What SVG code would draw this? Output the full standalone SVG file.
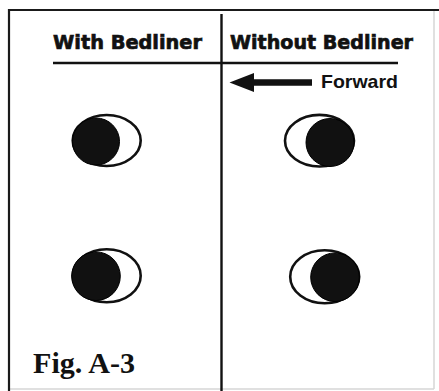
<svg xmlns="http://www.w3.org/2000/svg" width="439" height="391" viewBox="0 0 439 391">
<style>
.frame{stroke:#1a1a1a;stroke-width:2.2;fill:none}
.faint{stroke:#d6d6d6;stroke-width:1.5;fill:none}
.rule{stroke:#111;stroke-width:2.4;fill:none}
.head{font-family:"DejaVu Sans",sans-serif;font-weight:bold;font-size:19.5px;fill:#111;stroke:#111;stroke-width:0.7}
.fwd{font-family:"Liberation Sans",Arial,sans-serif;font-weight:bold;font-size:18.5px;fill:#111}
.fig{font-family:"Liberation Serif","Times New Roman",serif;font-weight:bold;font-size:30px;fill:#111}
.ring{fill:#fff;stroke:#111;stroke-width:2.6}
.dot{fill:#111;stroke:#000;stroke-width:1}
</style>
<rect width="439" height="391" fill="#fff"/>
<g id="frame">
<line class="faint" x1="434" y1="10" x2="434" y2="389"/>
<line class="faint" x1="9" y1="389" x2="434" y2="389"/>
<line class="frame" x1="8" y1="10" x2="439" y2="10"/>
<line class="frame" x1="9" y1="9" x2="9" y2="391"/>
<line class="rule" x1="221.5" y1="14" x2="221.5" y2="391"/>
<line class="rule" x1="53" y1="63" x2="398" y2="63"/>
</g>
<g id="heading-with">
<text class="head" x="53" y="49" textLength="149" lengthAdjust="spacingAndGlyphs">With Bedliner</text>
</g>
<g id="heading-without">
<text class="head" x="230" y="49" textLength="183" lengthAdjust="spacingAndGlyphs">Without Bedliner</text>
</g>
<g id="connectors">
<path d="M229.5,82.5 L254,73 L254,79.3 L312,79.3 L312,85.7 L254,85.7 L254,92 Z" fill="#111"/>
</g>
<g id="forward-label">
<text class="fwd" x="321" y="88" textLength="77" lengthAdjust="spacingAndGlyphs">Forward</text>
</g>
<g id="moon-top-left">
<ellipse class="ring" cx="106.7" cy="140.5" rx="34" ry="25.5"/>
<circle class="dot" cx="96" cy="141.5" r="23.5"/>
</g>
<g id="moon-top-right">
<ellipse class="ring" cx="319.5" cy="140.7" rx="34.5" ry="25.8"/>
<circle class="dot" cx="330" cy="142.5" r="24"/>
</g>
<g id="moon-bottom-left">
<ellipse class="ring" cx="106.7" cy="275.8" rx="34" ry="26.5"/>
<circle class="dot" cx="96" cy="276.2" r="24.3"/>
</g>
<g id="moon-bottom-right">
<ellipse class="ring" cx="324.7" cy="276.7" rx="34.5" ry="26.5"/>
<circle class="dot" cx="335" cy="277.2" r="24.3"/>
</g>
<g id="fig-label">
<text class="fig" x="33" y="373" textLength="102" lengthAdjust="spacingAndGlyphs">Fig. A-3</text>
</g>
</svg>
